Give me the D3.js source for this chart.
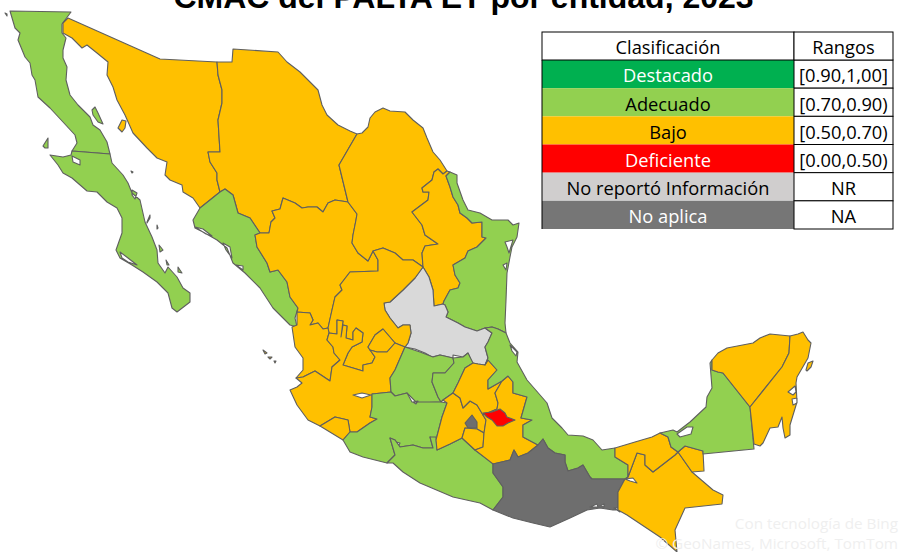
<!DOCTYPE html>
<html>
<head>
<meta charset="utf-8">
<script src="https://cdn.jsdelivr.net/npm/d3@7"></script>
<style>
  html, body { margin: 0; padding: 0; background: #fff; }
  svg { display: block; }
</style>
</head>
<body>
<div id="chart"></div>
<script>
// data
const titleText = "CMAC del PALTA ET por entidad, 2023";
const creditLines = ["Con tecnología de Bing", "© GeoNames, Microsoft, TomTom"];

const classNames = ["Destacado", "Adecuado", "Bajo", "Deficiente", "No reportó Información", "No aplica"];
const classRanges = ["[0.90,1,00]", "[0.70,0.90)", "[0.50,0.70)", "[0.00,0.50)", "NR", "NA"];
const tableHeaders = ["Clasificación", "Rangos"];

const stateNames = ["Baja California", "Baja California Sur", "Sonora", "Chihuahua", "Sinaloa", "Durango", "Coahuila",
  "Nuevo León", "Tamaulipas", "San Luis Potosí", "Zacatecas", "Aguascalientes", "Nayarit", "Jalisco", "Colima",
  "Guanajuato", "Querétaro", "Michoacán", "Guerrero", "México", "Ciudad de México", "Morelos", "Hidalgo", "Puebla",
  "Tlaxcala", "Veracruz", "Oaxaca", "Chiapas", "Tabasco", "Campeche", "Yucatán", "Quintana Roo"];
const stateClasses = ["Adecuado", "Adecuado", "Bajo", "Bajo", "Adecuado", "Bajo", "Bajo",
  "Bajo", "Adecuado", "No reportó Información", "Bajo", "Bajo", "Bajo", "Bajo", "Bajo",
  "Adecuado", "Adecuado", "Adecuado", "Adecuado", "Bajo", "No aplica", "Bajo", "Bajo", "Bajo",
  "Deficiente", "Adecuado", "No aplica", "Bajo", "Bajo", "Adecuado", "Bajo", "Bajo"];

// state outlines, one list of rings per state (islands and lagoons are extra rings)
const stateRings = [
  [[[10,11],[71,12],[62,24],[62,33],[66,38],[63,50],[63,58],[67,67],[66,80],[70,95],[78,105],[90,117],[93,125],[100,130],[107,142],[110,154],[72,151],[77,143],[75,135],[63,122],[50,108],[38,97],[35,80],[32,75],[30,63],[25,57],[18,40],[20,33],[15,28]],
   [[92,110],[95,107],[98,113],[103,124],[98,122],[93,115]],
   [[43,146],[48,138],[48,148],[45,148]],
   [[5,13],[7,14],[7,16]]],
  [[[72,151],[110,154],[112,163],[123,175],[128,183],[132,193],[140,200],[145,222],[152,237],[157,250],[158,263],[165,273],[168,267],[177,277],[183,288],[190,293],[190,302],[177,312],[172,308],[168,293],[157,282],[143,272],[132,265],[120,258],[116,250],[122,233],[122,218],[117,208],[107,202],[97,192],[87,191],[72,178],[63,173],[58,165],[50,155],[63,157],[71,155]],
   [[72,156],[80,160],[80,165],[73,162]],
   [[120,252],[128,258],[137,265],[128,262],[122,258]],
   [[132,190],[137,193],[135,199],[132,195]],
   [[147,222],[150,215],[150,218],[147,223]],
   [[159,245],[163,250],[160,252]],
   [[166,260],[169,265],[167,265]],
   [[178,267],[182,273],[178,272]],
   [[131,171],[133,172],[132,173]],
   [[157,225],[158,228],[157,229]]],
  [[[68,18],[160,59],[217,62],[218,75],[222,90],[222,103],[218,120],[220,152],[208,152],[210,162],[217,173],[217,180],[220,192],[200,208],[193,198],[183,192],[182,185],[170,180],[165,175],[167,162],[157,158],[147,148],[133,133],[125,115],[117,100],[113,87],[107,75],[108,62],[97,53],[87,45],[82,48],[72,38],[63,33],[63,23]],
   [[118,128],[122,120],[126,121],[125,128],[122,132]]],
  [[[217,62],[232,62],[233,49],[278,52],[287,62],[300,72],[318,90],[322,105],[327,115],[338,125],[350,131],[357,134],[339,165],[348,202],[335,200],[328,203],[323,212],[317,207],[308,207],[302,208],[295,203],[283,198],[280,209],[272,211],[275,218],[271,222],[269,233],[260,233],[250,218],[238,213],[233,195],[225,189],[220,192],[217,180],[217,173],[210,162],[208,152],[220,152],[218,120],[222,103],[222,90],[218,75]]],
  [[[200,208],[220,192],[225,189],[233,195],[238,213],[250,218],[260,233],[255,235],[257,247],[267,263],[270,272],[278,270],[287,282],[290,297],[298,308],[295,318],[297,327],[290,325],[273,308],[260,288],[245,273],[233,263],[227,248],[217,240],[203,232],[195,228],[193,220]],
   [[195,227],[203,229],[212,236],[206,234]],
   [[223,243],[230,247],[232,258],[226,250]],
   [[236,265],[243,266],[243,270]]],
  [[[260,233],[269,233],[271,222],[275,218],[272,211],[280,209],[283,198],[295,203],[302,208],[308,207],[317,207],[323,212],[328,203],[335,200],[348,202],[357,214],[356,220],[353,235],[352,243],[358,253],[368,261],[373,251],[378,260],[378,271],[350,272],[340,285],[342,290],[335,297],[332,310],[328,328],[323,329],[318,323],[310,325],[313,320],[310,313],[297,312],[298,308],[290,297],[287,282],[278,270],[270,272],[267,263],[257,247],[255,235]]],
  [[[357,134],[362,133],[368,127],[370,118],[375,112],[383,108],[390,111],[405,112],[413,120],[423,128],[427,138],[433,152],[440,160],[447,171],[443,174],[438,169],[434,172],[432,180],[422,188],[423,192],[429,192],[428,200],[412,212],[422,225],[425,235],[438,244],[425,246],[422,253],[423,267],[413,260],[403,260],[395,253],[383,248],[373,251],[368,261],[358,253],[352,243],[353,235],[356,220],[357,214],[348,202],[339,165]]],
  [[[443,174],[447,171],[450,172],[446,176],[450,187],[453,197],[458,205],[460,213],[467,218],[472,223],[482,222],[482,237],[486,238],[477,247],[468,251],[465,258],[453,265],[455,275],[460,283],[458,288],[450,290],[444,301],[443,304],[434,306],[433,290],[429,277],[423,267],[422,253],[425,246],[438,244],[425,235],[422,225],[412,212],[428,200],[429,192],[423,192],[422,188],[432,180],[434,172],[438,169]]],
  [[[450,172],[457,175],[457,183],[463,200],[468,210],[480,213],[492,220],[508,220],[513,225],[519,223],[517,237],[512,247],[510,257],[507,273],[506,300],[505,323],[506,333],[498,329],[492,327],[485,328],[477,331],[465,327],[458,323],[446,317],[448,312],[445,305],[443,304],[444,301],[450,290],[458,288],[460,283],[455,275],[453,265],[465,258],[468,251],[477,247],[486,238],[482,237],[482,222],[472,223],[467,218],[460,213],[458,205],[453,197],[450,187],[446,176]],
   [[505,242],[513,240],[509,253],[507,247]],
   [[503,265],[507,263],[506,270]]],
  [[[423,267],[429,277],[433,290],[434,306],[443,304],[445,305],[448,312],[446,317],[458,323],[465,327],[477,331],[485,328],[492,333],[488,342],[485,347],[488,358],[485,365],[478,364],[472,363],[468,353],[463,357],[453,355],[453,358],[440,355],[432,357],[425,353],[415,349],[405,347],[408,343],[411,333],[410,325],[403,325],[398,328],[390,318],[385,310],[384,303],[390,302],[403,290],[415,278]]],
  [[[373,251],[383,248],[395,253],[403,260],[413,260],[423,267],[415,278],[403,290],[390,302],[384,303],[385,310],[390,318],[398,328],[403,325],[410,325],[411,333],[408,343],[405,347],[395,343],[383,329],[375,335],[368,347],[370,350],[375,357],[372,363],[363,365],[363,371],[343,365],[348,353],[352,347],[362,342],[363,333],[356,328],[353,332],[353,340],[346,338],[347,326],[343,325],[341,337],[343,321],[337,320],[337,334],[329,333],[328,328],[332,310],[335,297],[342,290],[340,285],[350,272],[378,271],[378,260]]],
  [[[368,347],[375,335],[383,329],[395,343],[387,352],[377,352],[370,350]]],
  [[[297,312],[310,313],[313,320],[310,325],[318,323],[323,329],[328,328],[329,333],[327,340],[333,347],[334,353],[340,360],[332,367],[330,381],[315,371],[303,377],[296,378],[303,370],[303,358],[295,347],[292,327],[297,325]],
   [[263,350],[267,353],[265,354]],
   [[268,357],[272,357],[270,359]],
   [[274,361],[276,361],[275,363]]],
  [[[327,340],[329,333],[337,334],[337,320],[343,321],[341,337],[343,325],[347,326],[346,338],[353,340],[353,332],[356,328],[363,333],[362,342],[352,347],[348,353],[343,365],[363,371],[363,365],[372,363],[375,357],[370,350],[377,352],[387,352],[395,343],[405,347],[395,370],[390,378],[391,392],[372,394],[372,407],[370,417],[377,419],[370,423],[357,432],[350,432],[348,420],[335,417],[320,426],[308,420],[297,405],[290,390],[297,387],[302,383],[296,378],[303,377],[315,371],[330,381],[332,367],[340,360],[334,353],[333,347]],
   [[353,395],[362,393],[371,395],[362,398]]],
  [[[320,426],[335,417],[348,420],[350,432],[343,440]]],
  [[[405,347],[420,352],[433,357],[440,355],[453,358],[454,363],[445,373],[433,373],[432,382],[438,397],[441,402],[417,403],[407,393],[395,396],[391,392],[390,378],[395,370]]],
  [[[454,363],[453,358],[463,357],[468,353],[473,363],[465,368],[458,383],[453,393],[443,400],[441,402],[438,397],[432,382],[433,373],[445,373]]],
  [[[372,407],[372,394],[391,392],[395,396],[407,393],[412,402],[441,402],[447,403],[442,417],[436,440],[430,437],[433,448],[423,448],[413,445],[400,447],[395,440],[390,438],[395,455],[387,463],[363,457],[350,452],[343,440],[350,432],[357,432],[370,423],[377,419],[370,417]],
   [[396,442],[400,443],[399,445],[396,445]],
   [[413,402],[418,401],[416,404]]],
  [[[387,463],[395,455],[390,438],[395,440],[400,447],[413,445],[423,448],[433,448],[430,437],[436,437],[437,450],[450,444],[462,438],[475,450],[493,463],[493,473],[503,487],[503,497],[493,510],[480,503],[453,497],[420,483],[403,472],[393,463]]],
  [[[453,393],[460,398],[463,408],[470,401],[477,405],[483,415],[486,420],[484,433],[477,429],[465,428],[462,438],[450,444],[437,450],[436,440],[442,417],[447,403],[443,400]]],
  [[[472,415],[477,422],[477,428],[468,428],[465,423]]],
  [[[465,428],[477,429],[484,433],[483,447],[475,450],[462,438]]],
  [[[453,393],[458,383],[465,368],[473,363],[478,364],[485,365],[488,360],[497,370],[488,380],[488,389],[502,381],[495,393],[498,403],[497,409],[483,415],[477,405],[470,401],[463,408],[460,398]]],
  [[[508,376],[513,382],[513,393],[527,397],[521,418],[532,420],[523,425],[523,437],[538,445],[528,453],[518,457],[514,450],[510,460],[493,464],[475,450],[483,447],[484,433],[486,420],[483,415],[497,409],[498,403],[495,393],[502,381]]],
  [[[483,413],[492,412],[500,409],[505,413],[507,417],[515,420],[508,423],[503,426],[497,426],[492,420],[487,417]]],
  [[[485,328],[492,327],[498,329],[506,333],[510,343],[518,352],[517,362],[527,380],[547,403],[552,418],[562,428],[568,435],[583,436],[593,440],[602,450],[615,448],[615,457],[628,465],[628,477],[625,479],[592,479],[590,477],[583,465],[578,468],[568,471],[565,462],[565,455],[555,453],[548,448],[543,439],[538,445],[523,437],[523,425],[532,420],[521,418],[527,397],[513,393],[513,382],[508,376],[502,381],[488,389],[488,380],[497,370],[488,360],[485,365],[488,358],[485,347],[488,342],[492,333]],
   [[510,345],[517,352],[516,356],[512,351]]],
  [[[493,464],[510,460],[514,450],[518,457],[528,453],[538,445],[543,439],[548,448],[555,453],[565,455],[565,462],[568,471],[578,468],[583,465],[590,477],[592,479],[625,479],[618,492],[618,510],[613,510],[600,508],[587,510],[570,518],[550,527],[533,523],[513,518],[493,510],[503,497],[503,487],[493,473]],
   [[590,507],[597,504],[598,507]],
   [[600,506],[604,504],[604,507]],
   [[614,508],[619,508],[620,512]]],
  [[[625,479],[628,477],[637,453],[645,455],[645,465],[653,472],[675,455],[678,452],[692,472],[713,490],[723,495],[722,504],[685,508],[675,530],[677,552],[660,537],[627,515],[618,510],[618,492]],
   [[625,479],[633,478],[637,483],[630,481]]],
  [[[615,448],[635,442],[652,437],[660,433],[668,437],[671,447],[678,452],[675,455],[653,472],[645,465],[645,455],[637,453],[628,477],[628,465],[615,457]],
   [[678,452],[685,446],[703,451],[704,471],[692,472]]],
  [[[660,433],[673,430],[677,432],[690,422],[706,407],[707,397],[712,388],[710,363],[712,360],[712,370],[718,372],[723,373],[750,407],[754,449],[703,454],[703,451],[685,446],[678,452],[671,447],[668,437]],
   [[677,434],[687,427],[693,427],[691,434],[680,437]]],
  [[[712,360],[718,353],[727,348],[753,343],[760,338],[770,334],[790,336],[789,353],[782,367],[750,407],[723,373],[718,372],[712,370]]],
  [[[790,336],[798,334],[803,332],[808,340],[811,343],[808,358],[797,377],[796,383],[797,402],[790,425],[790,435],[785,438],[783,428],[782,417],[778,427],[770,428],[763,443],[760,446],[754,444],[750,407],[782,367],[789,353]],
   [[788,392],[795,386],[796,392],[793,395]],
   [[792,399],[797,398],[797,403],[793,405]],
   [[806,370],[808,363],[813,361],[811,367],[807,371]]]
];

// setup
const width = 899, height = 552;

const table = {left: 542, split: 794, right: 893, top: 32, header: 60, bottom: 229};

const colour = d3.scaleOrdinal()
  .domain(classNames)
  .range(["#00B050", "#92D050", "#FFC000", "#FF0000", "#D0CECE", "#767676"]);
const inkColour = d3.scaleOrdinal()
  .domain(classNames)
  .range(["#fff", "#000", "#000", "#fff", "#000", "#fff"]);

const svg = d3.select("#chart").append("svg")
  .attr("width", width)
  .attr("height", height)
  .attr("viewBox", [0, 0, width, height]);

// Mapa
const path = d3.geoPath(d3.geoIdentity());

// geojson rings have to end on their first point
const states = stateNames.map((name, i) => ({
  type: "Feature",
  properties: {name: name, group: stateClasses[i]},
  geometry: {type: "Polygon", coordinates: stateRings[i].map(r => r.concat([r[0]]))}
}));

svg.append("g")
  .selectAll("path")
  .data(states)
  .join("path")
  .attr("d", path)
  .attr("fill-rule", "evenodd")
  .attr("fill", d => d.properties.group === "No reportó Información" ? "#D9D9D9"
    : d.properties.group === "No aplica" ? "#6E6E6E" : colour(d.properties.group))
  .attr("stroke", "#5f5f5f")
  .attr("stroke-width", 1.1)
  .attr("stroke-linejoin", "round")
  .append("title").text(d => d.properties.name);

// Titulo
svg.append("text")
  .attr("x", 463.5)
  .attr("y", 8)
  .attr("text-anchor", "middle")
  .style("font-family", "'Liberation Sans', Arial, sans-serif")
  .style("font-weight", "bold")
  .style("font-size", "32px")
  .text(titleText);

// Tabla
const row = d3.scaleBand()
  .domain(classNames)
  .range([table.header, table.bottom]);

const tableFont = "'Open Sans', sans-serif";
const tableSize = "18.3px";

const rows = svg.append("g").selectAll("g")
  .data(classNames)
  .join("g");

rows.append("rect")
  .attr("x", table.left)
  .attr("y", d => row(d))
  .attr("width", table.split - table.left)
  .attr("height", row.bandwidth())
  .attr("fill", d => colour(d));

rows.append("rect")
  .attr("x", table.split)
  .attr("y", d => row(d))
  .attr("width", table.right - table.split)
  .attr("height", row.bandwidth())
  .attr("fill", "#fff")
  .attr("stroke", "#000");

rows.append("text")
  .attr("x", (table.left + table.split) / 2)
  .attr("y", d => row(d) + row.bandwidth() / 2 + 2)
  .attr("dy", "0.35em")
  .attr("text-anchor", "middle")
  .attr("fill", d => inkColour(d))
  .style("font-family", tableFont)
  .style("font-size", tableSize)
  .text(d => d);

rows.append("text")
  .attr("x", (table.split + table.right) / 2)
  .attr("y", d => row(d) + row.bandwidth() / 2 + 2)
  .attr("dy", "0.35em")
  .attr("text-anchor", "middle")
  .style("font-family", tableFont)
  .style("font-size", tableSize)
  .text((d, i) => classRanges[i]);

// cabecera
svg.append("rect")
  .attr("x", table.left)
  .attr("y", table.top)
  .attr("width", table.split - table.left)
  .attr("height", table.header - table.top)
  .attr("fill", "#fff")
  .attr("stroke", "#000");

svg.append("rect")
  .attr("x", table.split)
  .attr("y", table.top)
  .attr("width", table.right - table.split)
  .attr("height", table.header - table.top)
  .attr("fill", "#fff")
  .attr("stroke", "#000");

svg.selectAll(".head")
  .data(tableHeaders)
  .join("text")
  .attr("class", "head")
  .attr("x", (d, i) => i === 0 ? (table.left + table.split) / 2 : (table.split + table.right) / 2)
  .attr("y", (table.top + table.header) / 2 + 2)
  .attr("dy", "0.35em")
  .attr("text-anchor", "middle")
  .style("font-family", tableFont)
  .style("font-size", tableSize)
  .text(d => d);

svg.append("line")
  .attr("x1", table.left)
  .attr("x2", table.left)
  .attr("y1", table.header)
  .attr("y2", table.bottom)
  .attr("stroke", "#000");

// creditos del mapa
svg.selectAll(".credit")
  .data(creditLines)
  .join("text")
  .attr("class", "credit")
  .attr("x", 898)
  .attr("y", (d, i) => 529 + i * 20)
  .attr("text-anchor", "end")
  .attr("fill", "#efefef")
  .style("font-family", tableFont)
  .style("font-size", "15.3px")
  .text(d => d);
</script>
</body>
</html>
